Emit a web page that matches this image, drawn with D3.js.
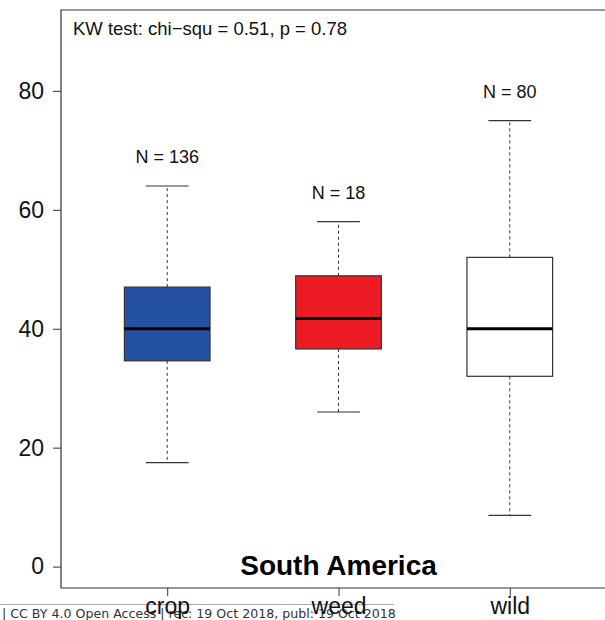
<!DOCTYPE html>
<html>
<head>
<meta charset="utf-8">
<script src="https://cdn.jsdelivr.net/npm/d3@7"></script>
<style>
  body { margin: 0; background: #fff; }
  svg { display: block; font-family: "Liberation Sans", Arial, sans-serif; }
</style>
</head>
<body>
<div id="chart"></div>
<script>
// boxplot stats
const groups = ['crop', 'weed', 'wild'];
const counts = [136, 18, 80];
const lowWhisker = [17.5, 26, 8.6];
const q1 = [34.6, 36.6, 32];
const medians = [40, 41.7, 40];
const q3 = [47, 48.9, 52];
const highWhisker = [64, 58, 75];
const fills = ['#2451a1', '#ed1c24', '#ffffff'];
const yTicks = [0, 20, 40, 60, 80];

const title = 'South America';
const testLabel = 'KW test: chi\u2212squ = 0.51, p = 0.78';
const footer = '| CC BY 4.0 Open Access | rec: 19 Oct 2018, publ: 19 Oct 2018';

const width = 605, height = 620;
const plot = { left: 61, right: 616, top: 10, bottom: 588 };

const svg = d3.select('#chart').append('svg')
  .attr('width', width)
  .attr('height', height);

// R style: xlim 0.5..n+0.5 plus 4%, ylim 0..90 plus 4%
const x = d3.scaleLinear().domain([0.38, 3.62]).range([plot.left, plot.right]);
const y = d3.scaleLinear().domain([-3.6, 93.6]).range([plot.bottom, plot.top]);

const boxW = x(1.5) - x(1);
const capW = boxW / 2;

// page footer overlay (sits under the axis labels)
svg.append('line')
  .attr('x1', 0).attr('x2', 394)
  .attr('y1', 604.5).attr('y2', 604.5)
  .attr('stroke', '#aaa');
svg.append('text')
  .attr('x', 2).attr('y', 618)
  .attr('font-family', '"DejaVu Sans", sans-serif')
  .attr('font-size', 12.6)
  .attr('fill', '#333')
  .text(footer);

// frame (right side runs off the page)
svg.append('path')
  .attr('d', `M${plot.right},${plot.top}H${plot.left}V${plot.bottom}H${plot.right}`)
  .attr('fill', 'none')
  .attr('stroke', '#333')
  .attr('stroke-width', 1.2);

// y axis
const yAxis = svg.append('g')
  .attr('transform', `translate(${plot.left},0)`)
  .call(d3.axisLeft(y).tickValues(yTicks).tickSize(8).tickPadding(9));
yAxis.select('.domain').remove();
yAxis.selectAll('line').attr('stroke', '#333');
yAxis.selectAll('text')
  .attr('font-family', '"Liberation Sans", Arial, sans-serif')
  .attr('font-size', 23)
  .attr('fill', '#111');

// x axis
const xAxis = svg.append('g')
  .attr('transform', `translate(0,${plot.bottom})`)
  .call(d3.axisBottom(x).tickValues([1, 2, 3]).tickFormat((d, i) => groups[i]).tickSize(8).tickPadding(2));
xAxis.select('.domain').remove();
xAxis.selectAll('line').attr('stroke', '#333');
xAxis.selectAll('text')
  .attr('font-family', '"Liberation Sans", Arial, sans-serif')
  .attr('font-size', 23)
  .attr('fill', '#111');

const data = groups.map((g, i) => ({
  name: g, pos: i + 1, n: counts[i], lo: lowWhisker[i], q1: q1[i],
  med: medians[i], q3: q3[i], hi: highWhisker[i], fill: fills[i]
}));

const box = svg.append('g').selectAll('g')
  .data(data)
  .enter().append('g');

// whiskers
box.append('line')
  .attr('x1', d => x(d.pos)).attr('x2', d => x(d.pos))
  .attr('y1', d => y(d.q3)).attr('y2', d => y(d.hi))
  .attr('stroke', '#333').attr('stroke-dasharray', '3,3');
box.append('line')
  .attr('x1', d => x(d.pos)).attr('x2', d => x(d.pos))
  .attr('y1', d => y(d.q1)).attr('y2', d => y(d.lo))
  .attr('stroke', '#333').attr('stroke-dasharray', '3,3');

// caps
box.append('line')
  .attr('x1', d => x(d.pos) - capW / 2).attr('x2', d => x(d.pos) + capW / 2)
  .attr('y1', d => y(d.hi)).attr('y2', d => y(d.hi))
  .attr('stroke', '#333').attr('stroke-width', 1.2);
box.append('line')
  .attr('x1', d => x(d.pos) - capW / 2).attr('x2', d => x(d.pos) + capW / 2)
  .attr('y1', d => y(d.lo)).attr('y2', d => y(d.lo))
  .attr('stroke', '#333').attr('stroke-width', 1.2);

// boxes
box.append('rect')
  .attr('x', d => x(d.pos) - boxW / 2)
  .attr('width', boxW)
  .attr('y', d => y(d.q3))
  .attr('height', d => y(d.q1) - y(d.q3))
  .attr('fill', d => d.fill)
  .attr('stroke', '#333')
  .attr('stroke-width', 1.2);

// medians
box.append('line')
  .attr('x1', d => x(d.pos) - boxW / 2).attr('x2', d => x(d.pos) + boxW / 2)
  .attr('y1', d => y(d.med)).attr('y2', d => y(d.med))
  .attr('stroke', '#000').attr('stroke-width', 3);

// sample sizes
box.append('text')
  .attr('x', d => x(d.pos))
  .attr('y', d => y(d.hi) - 23)
  .attr('text-anchor', 'middle')
  .attr('font-size', 18)
  .attr('fill', '#111')
  .text(d => `N = ${d.n}`);

svg.append('text')
  .attr('x', 73).attr('y', 35)
  .attr('font-size', 18.5)
  .attr('fill', '#111')
  .text(testLabel);

svg.append('text')
  .attr('x', x(2)).attr('y', 575)
  .attr('text-anchor', 'middle')
  .attr('font-size', 28)
  .attr('font-weight', 'bold')
  .attr('fill', '#000')
  .text(title);
</script>
</body>
</html>
